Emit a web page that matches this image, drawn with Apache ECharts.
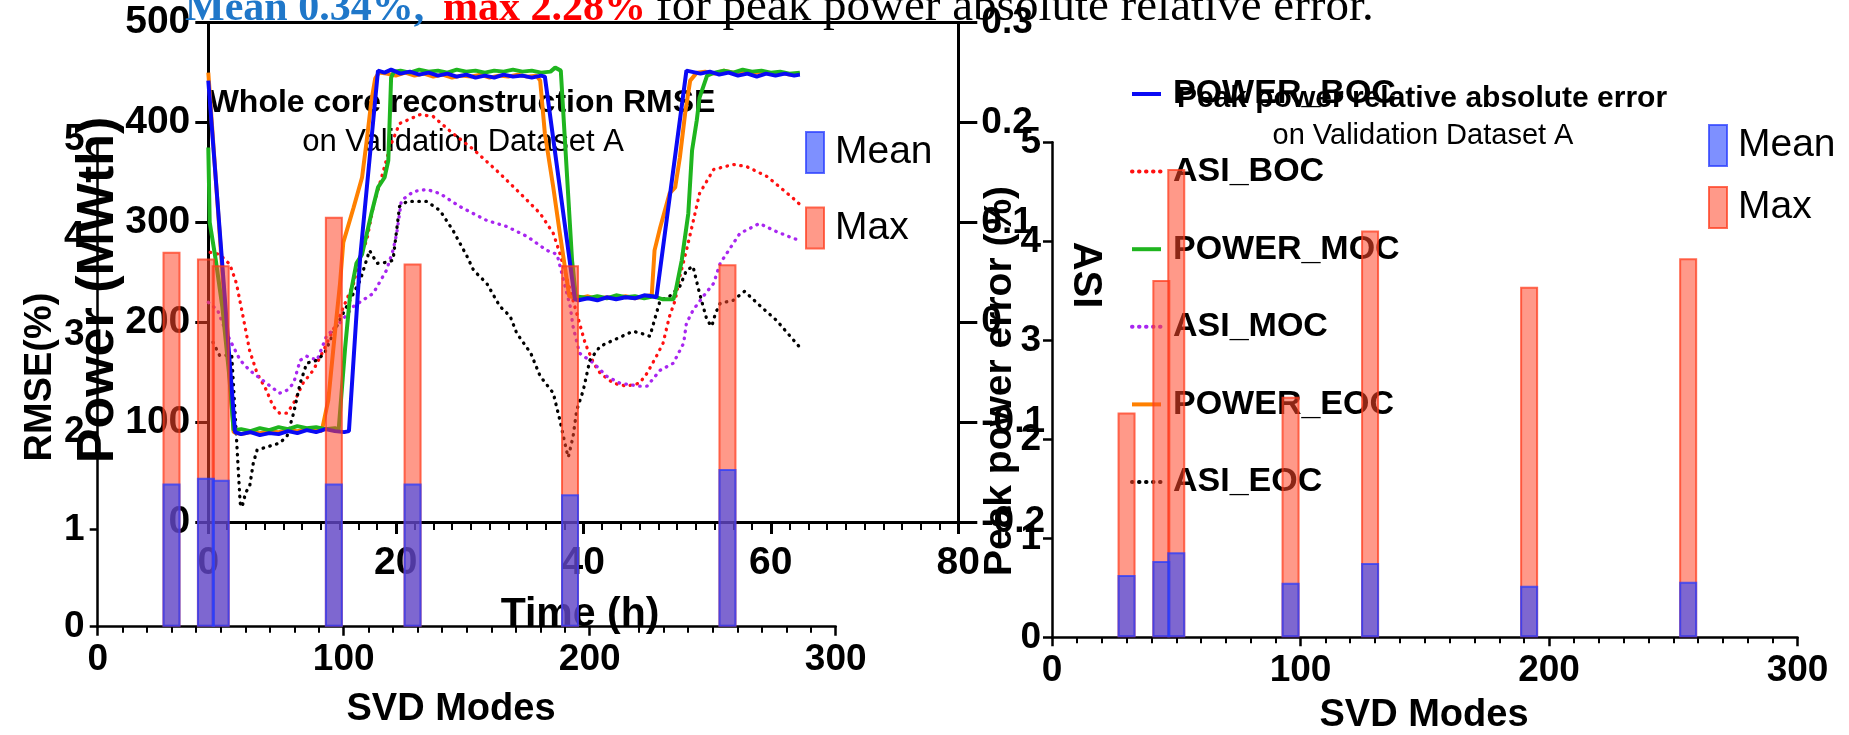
<!DOCTYPE html>
<html><head><meta charset="utf-8">
<script src="https://cdn.jsdelivr.net/npm/echarts/dist/echarts.min.js"></script>
<style>html,body{margin:0;padding:0;background:#fff}#c{width:1849px;height:735px}</style>
</head><body><div id="c"></div>
<script>
// ---- data ----
const modes = [30, 44, 50, 96, 128, 192, 256];
const rmseMean = [1.47, 1.53, 1.51, 1.47, 1.47, 1.36, 1.62];
const rmseMax = [3.85, 3.78, 3.71, 4.21, 3.73, 3.71, 3.72];
const peakMean = [0.63, 0.77, 0.86, 0.55, 0.75, 0.52, 0.56];
const peakMax = [2.27, 3.61, 4.73, 2.43, 4.11, 3.54, 3.83];

const lineNames = ['POWER_BOC', 'ASI_BOC', 'POWER_MOC', 'ASI_MOC', 'POWER_EOC', 'ASI_EOC'];

const powerBOC = [[0,442],[2.85,90],[3.5,88],[4.5,90],[5.5,87],[6.5,89],[7.5,88],[8.5,91],[9.5,89],[10.5,92],[11.5,90],[12.5,93],[13.5,91],[14.5,90],[15.0,91],[16.2,265],[18.1,452],[18.8,450],[19.5,453],[20.5,449],[21.5,451],[22.5,448],[23.5,450],[24.5,447],[25.5,449],[26.5,446],[27.5,448],[28.5,445],[29.5,447],[30.5,445],[31.5,448],[32.5,446],[33.5,447],[34.5,445],[35.5,447],[35.9,446],[39.1,223],[39.5,222],[40.5,224],[41.5,222],[42.5,225],[43.5,223],[44.5,225],[45.5,224],[46.5,227],[47.3,226],[47.8,225],[51.0,452],[51.5,451],[52.5,449],[53.5,451],[54.5,448],[55.5,450],[56.5,447],[57.5,449],[58.5,446],[59.5,449],[60.5,447],[61.5,449],[62.5,447],[63.1,448]];
const powerMOC = [[0,375],[0.15,300],[0.8,262],[1.5,215],[2.2,150],[2.7,92],[3.5,93],[4.5,91],[5.5,94],[6.5,92],[7.5,95],[8.5,93],[9.5,96],[10.5,94],[11.5,95],[12.5,93],[13.5,94],[13.9,92],[14.6,175],[15.1,225],[15.8,259],[16.4,268],[17.4,309],[18.1,335],[18.8,345],[19.2,362],[19.5,445],[19.8,451],[20.5,452],[21.5,450],[22.5,453],[23.5,451],[24.5,452],[25.5,450],[26.5,453],[27.5,451],[28.5,452],[29.5,450],[30.5,452],[31.5,451],[32.5,453],[33.5,451],[34.5,452],[35.5,450],[36.5,451],[37.0,455],[37.6,452],[38.8,262],[39.2,226],[40.5,224],[41.5,226],[42.5,224],[43.5,227],[44.5,225],[45.5,226],[46.5,224],[47.5,226],[48.5,223],[49.6,223],[49.8,229],[50.5,262],[51.2,309],[51.6,372],[52.1,402],[52.4,425],[53.2,447],[54,450],[55,452],[56,450],[57,453],[58,451],[59,452],[60,450],[61,451],[62,449],[63.1,450]];
const powerEOC = [[0,450],[2.7,90],[3.5,88],[4.5,90],[5.5,89],[6.5,91],[7.5,90],[8.5,92],[9.5,91],[10.5,93],[11.5,92],[12.1,91],[12.8,122],[13.5,189],[14.05,239],[14.4,280],[15.5,315],[16.4,345],[16.9,382],[17.4,422],[17.8,444],[18.2,450],[19,449],[20,447],[21,450],[22,447],[23,449],[24,446],[25,448],[26,445],[27,447],[28,446],[29,448],[30,445],[31,447],[32,446],[33,448],[34,446],[35,447],[35.4,442],[35.9,389],[36.8,335],[37.5,289],[38.5,226],[39.5,224],[40.5,226],[41.5,223],[42.5,225],[43.5,224],[44.5,226],[45.5,224],[46.5,226],[47.3,227],[47.6,272],[48.2,295],[49.2,329],[49.8,335],[50.3,365],[50.9,412],[51.4,442],[52.1,450],[53,451],[54,449],[55,452],[56,450],[57,451],[58,449],[59,451],[60,449],[61,450],[62,448],[63.1,449]];

const asiBOC = [[0.2,0.070],[1.2,0.068],[2.3,0.058],[3.0,0.039],[3.7,0.006],[4.4,-0.028],[5.2,-0.051],[6.2,-0.068],[6.9,-0.084],[7.6,-0.091],[8.4,-0.091],[9.1,-0.081],[10.1,-0.061],[11.2,-0.048],[12.3,-0.028],[13.3,-0.008],[14.0,0.006],[15.5,0.039],[16.2,0.066],[16.9,0.082],[17.6,0.116],[18.6,0.149],[19.4,0.176],[20.4,0.199],[22.6,0.208],[24.0,0.206],[26.1,0.189],[28.3,0.173],[31.1,0.149],[33.6,0.126],[35.4,0.109],[36.8,0.089],[37.5,0.069],[38.9,0.022],[39.6,-0.001],[40.2,-0.021],[41.1,-0.041],[41.8,-0.051],[43.2,-0.061],[44.6,-0.064],[46.0,-0.061],[46.8,-0.051],[47.8,-0.034],[48.5,-0.021],[49.2,0.006],[49.8,0.022],[50.3,0.046],[51.0,0.072],[51.6,0.096],[52.4,0.129],[53.9,0.153],[56.0,0.158],[57.4,0.156],[59.6,0.146],[62.4,0.124],[63.1,0.118]];
const asiMOC = [[0,0.020],[1.0,0.012],[1.9,-0.010],[2.7,-0.025],[3.4,-0.038],[4.4,-0.048],[6.2,-0.061],[7.6,-0.071],[8.4,-0.068],[9.1,-0.061],[9.8,-0.038],[10.5,-0.034],[11.6,-0.038],[12.6,-0.014],[14.0,-0.001],[15.5,0.016],[17.6,0.029],[19.0,0.052],[19.7,0.072],[20.1,0.089],[20.6,0.122],[21.9,0.131],[23.3,0.133],[24.7,0.129],[26.8,0.116],[29.7,0.102],[31.8,0.096],[34.0,0.086],[36.1,0.072],[37.2,0.068],[38.6,0.016],[38.9,-0.004],[39.6,-0.031],[41.1,-0.041],[42.5,-0.054],[43.9,-0.061],[46.0,-0.064],[46.8,-0.064],[48.2,-0.048],[49.6,-0.041],[50.7,-0.021],[51.0,-0.001],[51.7,0.012],[52.8,0.026],[53.9,0.039],[54.6,0.059],[55.3,0.069],[56.7,0.089],[58.8,0.099],[60.3,0.092],[62.4,0.084],[63.1,0.082]];
const asiEOC = [[0.5,-0.020],[1.2,-0.033],[2.5,-0.033],[3.0,-0.115],[3.4,-0.181],[3.6,-0.185],[4.0,-0.170],[4.4,-0.165],[4.8,-0.141],[5.2,-0.128],[6.2,-0.125],[7.6,-0.121],[8.4,-0.114],[9.1,-0.091],[9.8,-0.061],[10.5,-0.041],[11.6,-0.038],[12.4,-0.031],[13.2,-0.014],[14.0,0.002],[15.1,0.022],[16.2,0.042],[17.2,0.072],[18.0,0.059],[19.0,0.060],[19.7,0.062],[20.4,0.116],[21.2,0.121],[23.3,0.121],[24.7,0.112],[26.1,0.092],[27.6,0.066],[28.3,0.052],[29.7,0.039],[31.1,0.016],[32.2,0.006],[32.9,-0.011],[34.4,-0.031],[35.4,-0.054],[36.8,-0.071],[37.5,-0.098],[38.2,-0.128],[38.4,-0.135],[38.9,-0.115],[39.3,-0.088],[40.0,-0.068],[40.7,-0.038],[41.8,-0.024],[43.2,-0.018],[45.3,-0.009],[46.5,-0.012],[47.1,-0.014],[47.8,0.009],[48.2,0.022],[49.2,0.026],[50.3,0.036],[51.0,0.052],[51.7,0.056],[52.4,0.029],[53.2,0.002],[53.7,-0.004],[54.1,0.009],[54.6,0.019],[56.0,0.022],[57.2,0.031],[58.8,0.017],[60.6,0.002],[62.9,-0.023],[63.1,-0.025]];

// ---- styling ----
const FF = '"Liberation Sans", Arial, Helvetica, sans-serif';
const BLACK = '#000';
const meanStyle = {color: 'rgba(40,70,255,0.6)', borderColor: 'rgba(40,60,255,0.75)', borderWidth: 2};
const maxStyle = {color: 'rgba(255,70,40,0.55)', borderColor: 'rgba(255,60,30,0.75)', borderWidth: 2};

function valAxis(o) {
  const a = {
    type: 'value',
    splitLine: {show: false},
    minorSplitLine: {show: false},
    axisLine: {show: true, onZero: false, lineStyle: {color: BLACK, width: o.lw || 2.5}},
    axisTick: {show: true, inside: false, length: o.tl || 9, lineStyle: {color: BLACK, width: o.lw || 2.5}},
    axisLabel: {show: true, color: BLACK, fontFamily: FF, fontWeight: 'bold', fontSize: o.fs || 37, margin: o.margin || 14},
    minorTick: {show: !!o.minor, splitNumber: o.minor || 5, length: o.ml || 6, lineStyle: {color: BLACK, width: 2}}
  };
  return Object.assign(a, o.extra);
}

const pairs = (xs, ys) => xs.map((x, i) => [x, ys[i]]);

function powerLine(name, data, color) {
  return {name, type: 'line', xAxisIndex: 1, yAxisIndex: 1, data, symbol: 'none', z: 3,
    lineStyle: {color, width: 4}, itemStyle: {color}};
}
function asiLine(name, data, color) {
  return {name, type: 'line', xAxisIndex: 1, yAxisIndex: 2, data, symbol: 'none', z: 2,
    lineStyle: {color, width: 3.3, type: [0.5, 6.5], cap: 'round'}, itemStyle: {color}};
}
function bar(name, xi, yi, data, style) {
  return {name, type: 'bar', xAxisIndex: xi, yAxisIndex: yi, data, barWidth: 18, barGap: '-100%', z: 10,
    itemStyle: style};
}

function txt(text, x, y, size, opt) {
  opt = opt || {};
  return {type: 'text', x, y, rotation: opt.rot || 0, z: opt.z || 1,
    style: {text, fill: opt.color || BLACK, font: (opt.weight || 'bold') + ' ' + size + 'px ' + (opt.family || FF),
      align: opt.align || 'center', verticalAlign: 'middle', textAlign: opt.align || 'center', textVerticalAlign: 'middle'}};
}

const chart = echarts.init(document.getElementById('c'), null, {renderer: 'canvas'});
const serif = '"Liberation Serif", "Times New Roman", serif';

chart.setOption({
  animation: false,
  backgroundColor: '#fff',
  grid: [
    {left: 97.7, top: 139.7, width: 738, height: 487, outerBoundsMode: 'none'},
    {left: 208.3, top: 22.7, width: 750, height: 499.3, outerBoundsMode: 'none'},
    {left: 1052, top: 142.3, width: 745.5, height: 495, outerBoundsMode: 'none'}
  ],
  xAxis: [
    valAxis({extra: {gridIndex: 0, min: 0, max: 300, interval: 100}, minor: 10, tl: 9, ml: 6, margin: 15}),
    valAxis({extra: {gridIndex: 1, min: 0, max: 80, interval: 20}, minor: 10, lw: 3, tl: 12, ml: 8, fs: 39, margin: 22}),
    {type: 'value', gridIndex: 1, position: 'top', min: 0, max: 80, splitLine: {show: false},
      axisLine: {show: true, onZero: false, lineStyle: {color: BLACK, width: 3}}, axisTick: {show: false}, axisLabel: {show: false}},
    valAxis({extra: {gridIndex: 2, min: 0, max: 300, interval: 100}, minor: 10, tl: 9, ml: 6, margin: 15})
  ],
  yAxis: [
    valAxis({extra: {gridIndex: 0, min: 0, max: 5, interval: 1}, tl: 8, margin: 13, fs: 37}),
    valAxis({extra: {gridIndex: 1, min: 0, max: 500, interval: 100, position: 'left'}, lw: 3, tl: 13, margin: 18, fs: 39}),
    valAxis({extra: {gridIndex: 1, min: -0.2, max: 0.3, interval: 0.1, position: 'right'}, lw: 3, tl: 19, margin: 23, fs: 37}),
    valAxis({extra: {gridIndex: 2, min: 0, max: 5, interval: 1}, tl: 9, margin: 11, fs: 37})
  ],
  legend: [
    {orient: 'vertical', left: 1130, top: 74, padding: 0, itemWidth: 29, itemHeight: 14, itemGap: 37.6, z: 4,
      itemStyle: {opacity: 0}, lineStyle: {width: 4},
      textStyle: {fontFamily: FF, fontWeight: 'bold', fontSize: 34, color: BLACK, lineHeight: 40, padding: [0, 0, 0, 7]},
      data: lineNames},
    {orient: 'vertical', left: 805, top: 131, padding: 0, itemWidth: 18, itemHeight: 41, itemGap: 32.5, icon: 'rect', z: 4,
      textStyle: {fontFamily: FF, fontWeight: 'normal', fontSize: 39, color: BLACK, lineHeight: 41, padding: [0, 0, 0, 6]},
      data: ['Mean', 'Max']},
    {orient: 'vertical', left: 1708, top: 124, padding: 0, itemWidth: 18, itemHeight: 41, itemGap: 19, icon: 'rect', z: 4,
      textStyle: {fontFamily: FF, fontWeight: 'normal', fontSize: 39, color: BLACK, lineHeight: 41, padding: [0, 0, 0, 6]},
      data: ['Mean', 'Max']}
  ],
  series: [
    asiLine('ASI_BOC', asiBOC, '#ff1010'),
    asiLine('ASI_MOC', asiMOC, '#a826f0'),
    asiLine('ASI_EOC', asiEOC, '#000000'),
    powerLine('POWER_EOC', powerEOC, '#ff8000'),
    powerLine('POWER_MOC', powerMOC, '#1fb51f'),
    powerLine('POWER_BOC', powerBOC, '#0a0af5'),
    bar('Max', 0, 0, pairs(modes, rmseMax), maxStyle),
    bar('Mean', 0, 0, pairs(modes, rmseMean), meanStyle),
    bar('Max', 3, 3, pairs(modes, peakMax), maxStyle),
    bar('Mean', 3, 3, pairs(modes, peakMean), meanStyle)
  ],
  graphic: [
    txt('Mean 0.34%,', 185, 9, 42, {align: 'left', color: '#1f77c9', family: serif}),
    txt('max 2.28%', 443, 9, 42, {align: 'left', color: '#ff0000', family: serif}),
    txt('for peak power absolute relative error.', 656, 7.3, 47, {align: 'left', weight: 'normal', family: serif}),
    txt('Whole core reconstruction RMSE', 462, 103, 32),
    txt('on Validation Dataset A', 463, 142, 31, {weight: 'normal'}),
    txt('Peak power relative absolute error', 1422, 99, 30),
    txt('on Validation Dataset A', 1423, 136, 29, {weight: 'normal'}),
    txt('RMSE(%)', 41, 377, 38, {rot: Math.PI / 2}),
    txt('Power (MWth)', 99, 290, 52, {rot: Math.PI / 2}),
    txt('Time (h)', 580, 615, 41),
    txt('SVD Modes', 451, 710, 38),
    txt('SVD Modes', 1424, 716, 38),
    txt('ASI', 1085, 275, 40, {rot: -Math.PI / 2}),
    txt('Peak power error (%)', 1000, 381, 39, {rot: Math.PI / 2})
  ]
});
</script></body></html>
